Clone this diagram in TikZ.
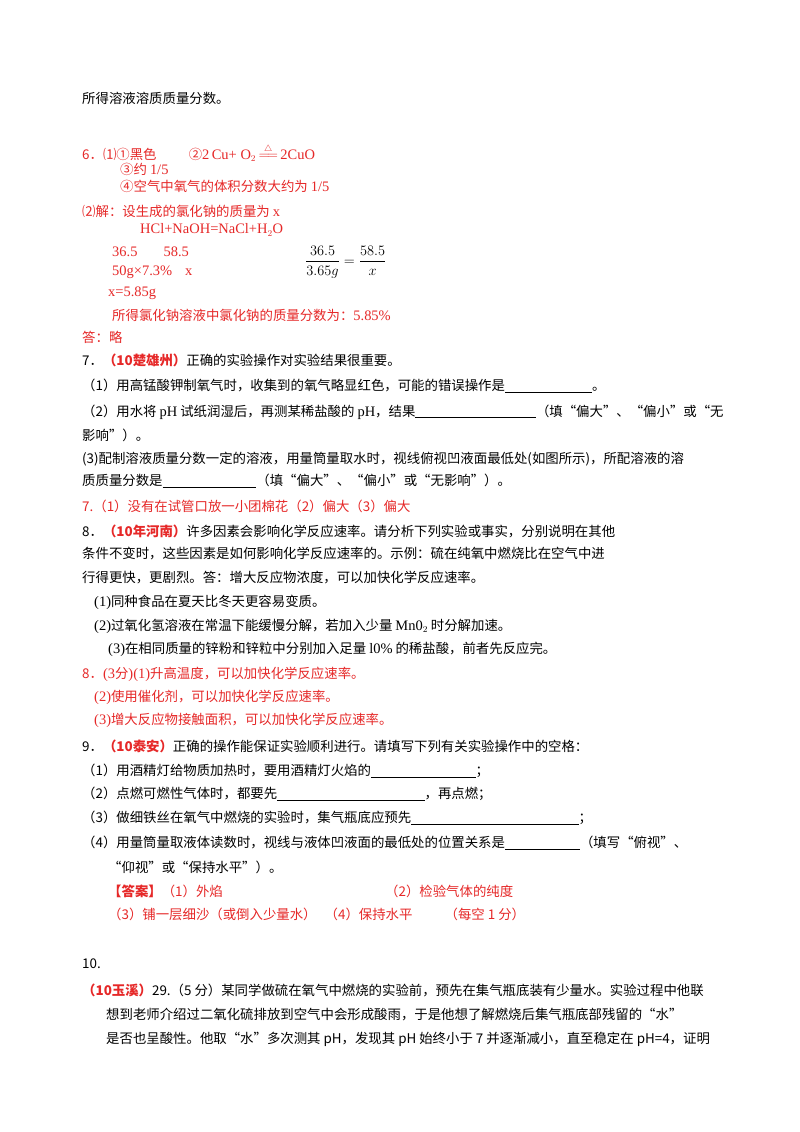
\documentclass[tikz,border=0pt]{standalone}
\usepackage{fontspec}
\setmainfont{Noto Sans CJK SC}
\newfontfamily\lat[Scale=1.08]{Liberation Serif}
\definecolor{ansred}{RGB}{230,40,40}
\newcommand{\bl}[1]{\underline{\hspace{#1}}}
\begin{document}
\begin{tikzpicture}[x=1pt,y=-1pt,
  t/.style={anchor=west,inner sep=0pt,font=\fontsize{13.4}{16}\selectfont},
  r/.style={t,text=ansred}]
\useasboundingbox[fill=white] (0,0) rectangle (800,1132);
\node[t] (l1) at (82,98) {所得溶液溶质质量分数。};
\node[r] (a6) at (82,153) {6．⑴①黑色\hspace{2.4em}②{\lat 2\,Cu+ O$_2$\,}$\stackrel{\triangle}{=\!=}${\lat\,2CuO}};
\node[r] (a6b) at (120,169) {③约 {\lat 1/5}};
\node[r] (a6c) at (120,186) {④空气中氧气的体积分数大约为 {\lat 1/5}};
\node[r] (a6d) at (82,211) {⑵解：设生成的氯化钠的质量为 {\lat x}};
\node[r] (a6e) at (140,230) {\lat HCl+NaOH=NaCl+H$_2$O};
\node[r] (a6f) at (112,252) {\lat 36.5\hspace{1.8em}58.5};
\node[r] (a6g) at (112,272) {\lat 50g×7.3\%\hspace{0.9em}x};
\node[r] (a6h) at (108,293) {\lat x=5.85g};
\node[t] (fr) at (305,262) {\lat\fontsize{15}{16}\selectfont $\displaystyle\frac{36.5}{3.65g}=\frac{58.5}{x}$};
\node[r] (a6i) at (112,315) {所得氯化钠溶液中氯化钠的质量分数为：{\lat 5.85\%}};
\node[r] (a6j) at (82,337) {答：略};
\node[t] (q7) at (82,360) {7．\textcolor{ansred}{\textbf{（10楚雄州）}}正确的实验操作对实验结果很重要。};
\node[t] (q71) at (82,386) {（1）用高锰酸钾制氧气时，收集到的氧气略显红色，可能的错误操作是\bl{6.5em}。};
\node[t] (q72) at (82,412) {（2）用水将 {\lat pH} 试纸润湿后，再测某稀盐酸的 {\lat pH}，结果\bl{9em}（填“偏大”、“偏小”或“无};
\node[t] (q72b) at (82,435) {影响”）。};
\node[t] (q73) at (82,459) {(3)配制溶液质量分数一定的溶液，用量筒量取水时，视线俯视凹液面最低处(如图所示)，所配溶液的溶};
\node[t] (q73b) at (82,481) {质质量分数是\bl{7em}（填“偏大”、“偏小”或“无影响”）。};
\node[r] (a7) at (82,506) {7.（1）没有在试管口放一小团棉花（2）偏大（3）偏大};
\node[t] (q8) at (82,531) {8．\textcolor{ansred}{\textbf{（10年河南）}}许多因素会影响化学反应速率。请分析下列实验或事实，分别说明在其他};
\node[t] (q8b) at (82,554) {条件不变时，这些因素是如何影响化学反应速率的。示例：硫在纯氧中燃烧比在空气中进};
\node[t] (q8c) at (82,578) {行得更快，更剧烈。答：增大反应物浓度，可以加快化学反应速率。};
\node[t] (q81) at (94,602) {{\lat (1)}同种食品在夏天比冬天更容易变质。};
\node[t] (q82) at (94,626) {{\lat (2)}过氧化氢溶液在常温下能缓慢分解，若加入少量 {\lat Mn0$_2$} 时分解加速。};
\node[t] (q83) at (108,649) {{\lat (3)}在相同质量的锌粉和锌粒中分别加入足量 {\lat l0\%} 的稀盐酸，前者先反应完。};
\node[r] (a8) at (82,674) {8．{\lat (3}分{\lat )(1)}升高温度，可以加快化学反应速率。};
\node[r] (a82) at (94,697) {{\lat (2)}使用催化剂，可以加快化学反应速率。};
\node[r] (a83) at (94,720) {{\lat (3)}增大反应物接触面积，可以加快化学反应速率。};
\node[t] (q9) at (82,746) {9．\textcolor{ansred}{\textbf{（10泰安）}}正确的操作能保证实验顺利进行。请填写下列有关实验操作中的空格：};
\node[t] (q91) at (82,771) {（1）用酒精灯给物质加热时，要用酒精灯火焰的\bl{7.8em}；};
\node[t] (q92) at (82,794) {（2）点燃可燃性气体时，都要先\bl{11em}，再点燃；};
\node[t] (q93) at (82,818) {（3）做细铁丝在氧气中燃烧的实验时，集气瓶底应预先\bl{12.5em}；};
\node[t] (q94) at (82,843) {（4）用量筒量取液体读数时，视线与液体凹液面的最低处的位置关系是\bl{5.6em}（填写“俯视”、};
\node[t] (q94b) at (108,867) {“仰视”或“保持水平”）。};
\node[r] (a9) at (108,891) {\textbf{【答案】}（1）外焰};
\node[r] (a9b) at (385,891) {（2）检验气体的纯度};
\node[r] (a9c) at (108,914) {（3）铺一层细沙（或倒入少量水）\hspace{0.6em}（4）保持水平\hspace{2.4em}（每空 1 分）};
\node[t] (q10) at (82,964) {10.};
\node[t] (q10a) at (82,990) {\textcolor{ansred}{\textbf{（10玉溪）}}29.（5 分）某同学做硫在氧气中燃烧的实验前，预先在集气瓶底装有少量水。实验过程中他联};
\node[t] (q10b) at (106,1015) {想到老师介绍过二氧化硫排放到空气中会形成酸雨，于是他想了解燃烧后集气瓶底部残留的“水”};
\node[t] (q10c) at (106,1039) {是否也呈酸性。他取“水”多次测其 pH，发现其 pH 始终小于 7 并逐渐减小，直至稳定在 pH=4，证明};
\end{tikzpicture}
\end{document}
